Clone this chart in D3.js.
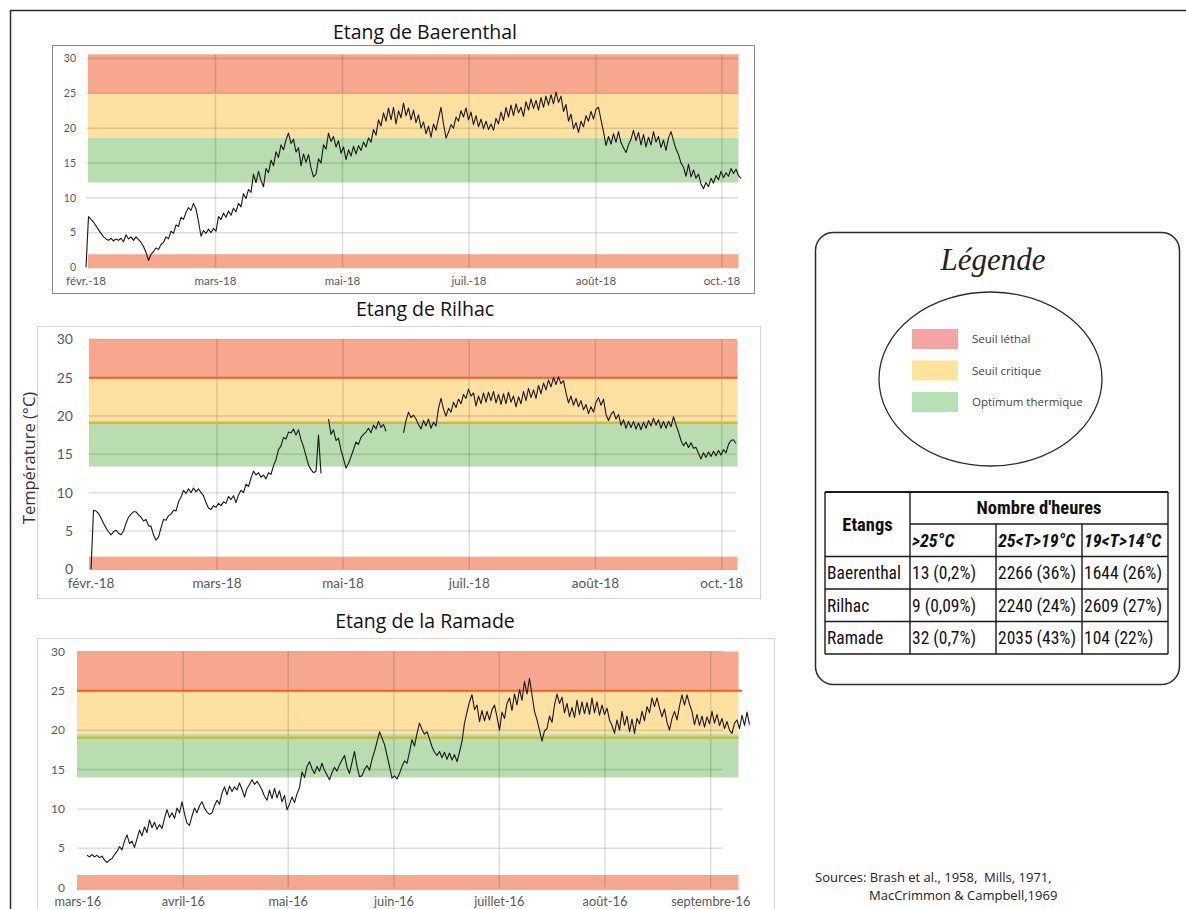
<!DOCTYPE html>
<html><head><meta charset="utf-8">
<script src="https://cdn.jsdelivr.net/npm/d3@7"></script>
<style>body{margin:0;background:#fff}svg{display:block}</style>
</head><body>
<svg id="c" width="1186" height="909"></svg>
<script>
// ---------- DATA ----------
const yTicks = [0, 5, 10, 15, 20, 25, 30];

const baerenthalLabels = ["févr.-18", "mars-18", "mai-18", "juil.-18", "août-18", "oct.-18"];
const baerenthalTickIdx = [0, 51.8, 102.6, 153.2, 204, 254.4];
const baerenthal = [
  0, 7.3, 6.9, 6.5, 6.0, 5.4, 4.9, 4.4, 4.1, 3.9,
  4.2, 3.8, 4.1, 3.9, 4.2, 3.7, 4.7, 4.1, 4.4, 3.9,
  4.4, 4.0, 3.6, 3.0, 2.2, 1.0, 1.9, 2.3, 2.8, 2.6,
  3.3, 3.6, 4.4, 4.1, 5.2, 4.9, 6.1, 5.9, 7.2, 6.9,
  7.9, 8.6, 8.2, 9.2, 8.4, 6.6, 4.5, 5.3, 4.9, 5.5,
  5.0, 5.6, 5.2, 7.3, 6.9, 7.8, 7.2, 8.1, 7.5, 8.5,
  8.0, 9.2, 8.7, 10.6, 9.9, 11.2, 10.8, 13.4, 12.2, 13.8,
  12.5, 11.6, 14.2, 13.6, 15.4, 14.6, 16.6, 15.8, 17.6, 16.9,
  18.3, 19.3, 17.8, 18.4, 16.6, 17.2, 14.6, 16.3, 15.1, 16.2,
  14.3, 13.0, 13.4, 15.6, 15.0, 17.6, 17.0, 19.3, 18.1, 18.8,
  17.3, 18.2, 16.4, 17.3, 15.5, 16.9, 16.0, 17.4, 16.3, 17.5,
  16.8, 18.0, 17.3, 18.6, 18.0, 19.8, 19.0, 21.2, 20.3, 22.2,
  21.0, 22.9, 21.2, 23.0, 20.6, 22.5, 21.5, 23.6, 21.8, 22.9,
  21.2, 22.6, 20.8, 21.9, 20.0, 20.9, 19.2, 20.3, 18.7, 20.6,
  19.7, 21.4, 23.0, 20.6, 18.6, 19.4, 20.5, 20.0, 21.6, 21.0,
  22.5, 21.6, 22.9, 21.2, 22.3, 20.5, 21.8, 20.2, 21.3, 19.9,
  21.0, 19.8, 20.6, 19.7, 21.4, 20.6, 22.3, 21.1, 23.0, 21.6,
  23.3, 21.8, 23.5, 22.2, 23.0, 21.7, 23.8, 22.6, 24.2, 22.8,
  24.0, 22.6, 24.4, 23.0, 24.6, 23.3, 24.8, 23.5, 25.2, 23.7,
  24.6, 22.4, 23.4, 21.0, 22.0, 19.9, 20.8, 19.4, 21.0, 20.2,
  21.8, 21.0, 22.4, 21.3, 22.7, 23.0, 21.2, 19.5, 17.5, 18.8,
  17.7, 19.2, 18.0, 19.5, 17.9, 17.2, 16.5, 17.6, 18.4, 19.7,
  18.2, 19.4, 17.6, 19.1, 17.3, 18.7, 17.6, 19.5, 18.0, 18.8,
  17.2, 18.3, 16.8, 18.6, 19.5, 18.2, 17.0, 16.2, 15.0, 14.4,
  13.1, 14.8, 13.0, 14.0, 12.8, 13.4, 12.0, 11.3, 12.2, 11.6,
  12.8, 12.1, 13.2, 12.6, 13.8, 12.9, 13.6, 13.1, 14.2, 13.5,
  14.1, 13.2, 12.8
];

const rilhacLabels = ["févr.-18", "mars-18", "mai-18", "juil.-18", "août-18", "oct.-18"];
const rilhacTickIdx = [0, 50.4, 100.8, 151.3, 201.8, 252.3];
const rilhac = [
  0, 7.7, 7.6, 7.3, 6.7, 6.0, 5.4, 4.9, 4.5, 4.9,
  5.1, 4.7, 4.5, 5.0, 6.0, 6.8, 7.2, 7.5, 7.5, 7.1,
  6.8, 6.3, 6.5, 5.7, 5.6, 4.5, 3.8, 4.2, 5.4, 6.5,
  6.4, 7.0, 7.2, 7.7, 7.6, 8.8, 9.4, 10.3, 9.9, 10.5,
  10.0, 10.6, 10.1, 10.5, 10.0, 9.6, 8.7, 8.0, 7.8, 8.3,
  8.1, 8.6, 8.3, 8.8, 8.6, 9.5, 9.1, 9.6, 8.7, 9.7,
  10.3, 10.0, 11.1, 10.8, 11.9, 12.8, 12.3, 12.6, 12.0, 12.3,
  11.8, 12.6, 12.4, 13.5, 14.3, 15.6, 16.1, 17.2, 17.0, 17.9,
  17.8, 18.3, 17.5, 18.2, 16.9, 16.0, 14.8, 13.6, 13.0, 12.6,
  12.8, 17.5, 12.5, null, null, 19.6, 17.6, 18.2, 16.8, 17.1,
  15.5, 14.4, 13.2, 13.8, 14.7, 15.6, 16.6, 16.3, 17.2, 17.6,
  17.9, 18.4, 17.8, 18.8, 18.3, 19.3, 18.5, 18.9, 18.0, null,
  null, null, null, null, null, 17.8, 19.4, 20.5, 19.8, 20.1,
  19.6, 18.9, 18.3, 19.4, 18.7, 19.6, 18.4, 19.2, 18.7, 21.0,
  22.3, 20.9, 20.0, 21.0, 20.5, 21.8, 21.1, 22.2, 21.6, 22.8,
  22.3, 23.5, 22.6, 23.0, 21.3, 22.6, 21.6, 23.0, 21.8, 23.1,
  22.0, 23.2, 21.7, 22.8, 21.5, 22.9, 21.6, 23.1, 21.8, 22.6,
  21.2, 22.5, 21.6, 23.2, 22.0, 23.6, 22.4, 23.4, 22.3, 24.0,
  22.9, 24.3, 23.4, 24.7, 23.8, 25.0, 24.1, 25.1, 24.2, 24.6,
  23.0, 21.7, 22.6, 21.4, 22.3, 21.2, 22.0, 20.8, 21.5, 20.3,
  21.2, 20.5, 21.8, 22.4, 21.4, 22.2, 20.2, 19.4, 20.2, 20.6,
  19.6, 20.2, 18.8, 19.5, 18.4, 19.3, 18.5, 19.3, 18.3, 19.1,
  18.2, 19.2, 18.4, 19.4, 18.7, 19.7, 18.8, 19.5, 18.4, 19.3,
  18.4, 19.3, 18.6, 19.9, 18.8, 17.9, 16.8, 16.1, 16.6, 15.9,
  16.5, 15.8, 15.9, 15.1, 14.4, 15.2, 14.6, 15.3, 14.7, 15.4,
  14.8, 15.5, 14.9, 15.6, 15.2, 16.3, 16.8, 16.9, 16.4
];

const ramadeLabels = ["mars-16", "avril-16", "mai-16", "juin-16", "juillet-16", "août-16", "septembre-16"];
const ramadeTickIdx = [-3.7, 38.5, 80.5, 122.8, 164.9, 207.2, 249.5];
const ramade = [
  4.1, 3.9, 4.2, 3.9, 4.1, 3.8, 4.0, 3.5, 3.2, 3.5,
  3.7, 4.2, 4.6, 5.2, 4.8, 5.9, 6.7, 5.6, 5.9, 5.1,
  6.2, 7.3, 6.6, 7.7, 7.0, 8.6, 7.6, 8.3, 7.4, 8.0,
  7.5, 8.8, 9.9, 8.9, 9.5, 8.8, 10.1, 9.5, 10.9, 9.4,
  8.2, 7.9, 9.1, 10.1, 9.5, 10.4, 10.9, 10.1, 9.6, 9.3,
  9.5, 10.4, 11.1, 10.6, 12.0, 12.8, 11.8, 12.9, 12.2, 12.8,
  12.4, 13.3, 12.5, 11.5, 12.6, 13.1, 13.7, 13.1, 13.5, 13.0,
  12.4, 11.6, 11.1, 12.4, 11.3, 12.6, 11.4, 12.3, 10.9, 11.7,
  9.9, 10.6, 11.5, 10.8, 11.9, 12.7, 14.7, 14.0, 15.4, 16.0,
  15.1, 14.5, 15.4, 14.8, 15.8, 14.9, 14.3, 13.7, 14.6, 15.3,
  14.8, 15.6, 16.2, 16.8, 15.3, 14.5, 15.9, 17.3, 15.4, 14.1,
  14.2, 15.0, 15.5, 14.9, 16.3, 17.3, 18.5, 19.8, 19.0, 18.2,
  16.8, 15.4, 13.9, 14.2, 13.8, 14.5, 15.4, 16.1, 15.8, 17.2,
  18.8, 18.0, 19.6, 20.9, 20.1, 19.5, 19.8, 18.9, 17.9, 17.2,
  16.8, 17.3, 16.5, 17.2, 16.3, 17.1, 16.2, 16.9, 16.0, 17.2,
  18.6, 20.9, 22.3, 23.6, 24.5, 22.6, 23.2, 21.1, 22.5, 21.2,
  22.4, 21.3, 22.6, 23.2, 21.7, 20.0, 22.3, 21.5, 23.4, 24.1,
  22.5, 24.6, 23.2, 25.2, 23.8, 26.2, 24.6, 26.6, 24.5, 22.4,
  21.3, 20.0, 18.6, 19.9, 20.2, 21.8, 21.0, 23.2, 24.6, 23.4,
  24.2, 22.2, 23.4, 21.7, 22.9, 21.6, 23.8, 22.0, 23.6, 22.1,
  23.5, 22.0, 24.1, 22.2, 23.6, 21.9, 23.2, 22.0, 22.8, 21.3,
  20.6, 19.6, 21.3, 20.0, 22.4, 20.6, 21.8, 19.8, 21.4, 19.6,
  21.5, 20.8, 22.4, 21.2, 23.0, 22.2, 24.1, 23.0, 24.1, 22.8,
  21.7, 22.7, 21.0, 20.0, 21.5, 22.4, 21.3, 23.1, 24.5, 23.2,
  24.5, 23.3, 22.4, 20.7, 22.0, 20.6, 21.8, 20.4, 21.7, 20.8,
  22.4, 20.9, 22.0, 20.6, 21.5, 20.2, 21.1, 20.0, 19.6, 20.9,
  21.3, 20.2, 21.9, 20.6, 22.3, 20.7
];

// thermal zones per pond: [low, high] in °C
const baerenthalZones = { lethalHigh: [25, 30.6], critique: [18.6, 25], optimum: [12.2, 18.6], lethalLow: [-0.1, 1.9] };
const rilhacZones     = { lethalHigh: [25, 30],   critique: [19.1, 25], optimum: [13.4, 19.1], lethalLow: [-0.1, 1.65] };
const ramadeZones     = { lethalHigh: [25, 30],   critique: [19.5, 25], optimum: [14, 19.5],   lethalLow: [-0.3, 1.6] };
const rilhacThresholds = [25, 19.1];
const ramadeThresholds = [25, 19.05];

const legendLabels = ["Seuil léthal", "Seuil critique", "Optimum thermique"];
const tableFirstHead = "Etangs";
const tableGroupHead = "Nombre d'heures";
const tableColHeads = [">25°C", "25<T>19°C", "19<T>14°C"];
const tableRows = [
  ["Baerenthal", "13 (0,2%)", "2266 (36%)", "1644 (26%)"],
  ["Rilhac", "9 (0,09%)", "2240 (24%)", "2609 (27%)"],
  ["Ramade", "32 (0,7%)", "2035 (43%)", "104 (22%)"]
];
const sourcesLines = ["Sources: Brash et al., 1958,  Mills, 1971,", "MacCrimmon & Campbell,1969"];

// ---------- STYLE ----------
const COL = { lethal: "#F7A78E", critique: "#FEE0A1", optimum: "#B9DCB0" };
const FONT = "'Open Sans', 'Noto Sans', sans-serif";
const LBL = "Lato, 'Open Sans', sans-serif";

const svg = d3.select("#c");

// outer frame
svg.append("path").attr("d", "M10.5,909 V10.5 H1186")
  .attr("fill", "none").attr("stroke", "#2b2b2b").attr("stroke-width", 1.5);

const charts = [
  { title: "Etang de Baerenthal", titleY: 39, box: [52.5, 45.5, 754.5, 293.5], boxStroke: "#8a8a8a",
    data: baerenthal, zones: baerenthalZones, thresholds: [], soft25: true,
    labels: baerenthalLabels, tickIdx: baerenthalTickIdx,
    xr: [86, 741], yr: [267.5, 58.5], bandX: [88, 738.5], gridX: [86, 738], vTop: 30.6,
    yLblX: 76, yFs: 10.5, xLblY: 285, xFs: 11.5 },
  { title: "Etang de Rilhac", titleY: 316, box: [37.5, 326.5, 760.5, 598.5], boxStroke: "#d4d4d4",
    data: rilhac, zones: rilhacZones, thresholds: rilhacThresholds, soft25: false,
    labels: rilhacLabels, tickIdx: rilhacTickIdx,
    xr: [91, 736], yr: [569.3, 339.3], bandX: [89, 737.5], gridX: [89, 736], vTop: 30,
    yLblX: 73, yFs: 14, xLblY: 588, xFs: 13.5 },
  { title: "Etang de la Ramade", titleY: 628, box: [37.5, 638.5, 774.5, 920], boxStroke: "#d4d4d4",
    data: ramade, zones: ramadeZones, thresholds: ramadeThresholds, soft25: false,
    labels: ramadeLabels, tickIdx: ramadeTickIdx,
    xr: [87, 749.5], yr: [887.6, 651.5], bandX: [77, 738.5], gridX: [77, 723], vTop: 30, lineX1: 742,
    yLblX: 65, yFs: 12, xLblY: 906, xFs: 12.8 }
];

charts.forEach(c => {
  const g = svg.append("g");
  const x = d3.scaleLinear().domain([0, c.data.length - 1]).range(c.xr);
  const y = d3.scaleLinear().domain([0, 30]).range(c.yr);

  g.append("rect").attr("x", c.box[0]).attr("y", c.box[1])
    .attr("width", c.box[2] - c.box[0]).attr("height", c.box[3] - c.box[1])
    .attr("fill", "#fff").attr("stroke", c.boxStroke).attr("stroke-width", 1);

  g.append("text").attr("x", 425).attr("y", c.titleY).attr("text-anchor", "middle")
    .attr("font-family", FONT).attr("font-size", 19.5).attr("fill", "#111").text(c.title);

  // bands
  const bands = [
    [c.zones.lethalHigh, COL.lethal], [c.zones.critique, COL.critique],
    [c.zones.optimum, COL.optimum], [c.zones.lethalLow, COL.lethal]
  ];
  g.selectAll("rect.band").data(bands).join("rect").attr("class", "band")
    .attr("x", c.bandX[0]).attr("width", c.bandX[1] - c.bandX[0])
    .attr("y", d => y(d[0][1])).attr("height", d => y(d[0][0]) - y(d[0][1]))
    .attr("fill", d => d[1]);

  // gridlines
  g.selectAll("line.hg").data(yTicks.filter(t => t > 0)).join("line").attr("class", "hg")
    .attr("x1", c.gridX[0]).attr("x2", c.gridX[1])
    .attr("y1", d => y(d)).attr("y2", d => y(d))
    .attr("stroke", "rgba(0,0,0,0.13)").attr("stroke-width", 1.5);
  g.selectAll("line.vg").data(c.tickIdx.slice(1)).join("line").attr("class", "vg")
    .attr("x1", d => x(d)).attr("x2", d => x(d))
    .attr("y1", y(c.vTop)).attr("y2", y(0))
    .attr("stroke", "rgba(0,0,0,0.13)").attr("stroke-width", 1.5);

  if (c.soft25) {
    g.append("line").attr("x1", c.bandX[0]).attr("x2", c.bandX[1])
      .attr("y1", y(25)).attr("y2", y(25)).attr("stroke", "#F3A36E").attr("stroke-width", 1.2);
  }
  // threshold lines
  const thrColors = ["#F2602A", "#C9BE3A"];
  c.thresholds.forEach((t, i) => {
    g.append("line").attr("x1", c.bandX[0]).attr("x2", i === 0 && c.lineX1 ? c.lineX1 : c.bandX[1])
      .attr("y1", y(t)).attr("y2", y(t))
      .attr("stroke", thrColors[i]).attr("stroke-width", i === 0 ? 2 : 2.5);
  });

  // y labels
  g.selectAll("text.yl").data(yTicks).join("text").attr("class", "yl")
    .attr("x", c.yLblX).attr("y", d => y(d)).attr("dy", "0.35em")
    .attr("text-anchor", "end").attr("font-family", LBL).attr("font-size", c.yFs)
    .attr("fill", "#595959").text(d => d);

  // x labels
  g.selectAll("text.xl").data(c.tickIdx).join("text").attr("class", "xl")
    .attr("x", d => x(d)).attr("y", c.xLblY).attr("text-anchor", "middle")
    .attr("font-family", LBL).attr("font-size", c.xFs).attr("fill", "#595959")
    .text((d, i) => c.labels[i]);

  // series
  const line = d3.line().defined(d => d != null).x((d, i) => x(i)).y(d => y(d));
  g.append("path").datum(c.data).attr("d", line)
    .attr("fill", "none").attr("stroke", "#171717").attr("stroke-width", 1.1)
    .attr("stroke-linejoin", "round");
});

// y axis title
svg.append("text").attr("transform", "translate(35,458) rotate(-90)")
  .attr("text-anchor", "middle").attr("font-family", FONT).attr("font-size", 16.5)
  .attr("fill", "#333").text("Température (°C)");

// legend box
const lg = svg.append("g");
lg.append("rect").attr("x", 815.5).attr("y", 232.5).attr("width", 364).attr("height", 452)
  .attr("rx", 18).attr("fill", "#fff").attr("stroke", "#2b2b2b").attr("stroke-width", 1.5);
lg.append("text").attr("x", 993).attr("y", 270).attr("text-anchor", "middle")
  .attr("font-family", "'Liberation Serif', 'DejaVu Serif', serif").attr("font-style", "italic")
  .attr("font-size", 31).attr("fill", "#222").text("Légende");
lg.append("ellipse").attr("cx", 990.5).attr("cy", 379).attr("rx", 111.5).attr("ry", 87)
  .attr("fill", "none").attr("stroke", "#2b2b2b").attr("stroke-width", 1.3);
const swatchCols = ["#F5A3A3", "#FEE39B", "#B5E1B5"];
const legY = d3.scalePoint().domain(legendLabels).range([339, 402]);
lg.selectAll("rect.sw").data(legendLabels).join("rect").attr("class", "sw")
  .attr("x", 912).attr("y", d => legY(d) - 10).attr("width", 46).attr("height", 20)
  .attr("fill", (d, i) => swatchCols[i]);
lg.selectAll("text.lt").data(legendLabels).join("text").attr("class", "lt")
  .attr("x", 972).attr("y", d => legY(d)).attr("dy", "0.35em")
  .attr("font-family", FONT).attr("font-size", 11.5).attr("fill", "#444").text(d => d);

// table
const TF = "'Liberation Sans Narrow', 'Arial Narrow', 'Roboto Condensed', sans-serif";
const colX = [825, 910, 996, 1082, 1168];
const rowY = [492, 524, 556.5, 589, 621.5, 654];
const tg = svg.append("g");
const ls = (x1, y1, x2, y2, w) => tg.append("line").attr("x1", x1).attr("y1", y1).attr("x2", x2).attr("y2", y2)
  .attr("stroke", "#1a1a1a").attr("stroke-width", w || 1.4);
ls(colX[0], rowY[0], colX[4], rowY[0], 1.8);
ls(colX[1], rowY[1], colX[4], rowY[1]);
rowY.slice(2).forEach(yy => ls(colX[0], yy, colX[4], yy));
ls(colX[0], rowY[0], colX[0], rowY[5]);
ls(colX[1], rowY[0], colX[1], rowY[5]);
ls(colX[2], rowY[1], colX[2], rowY[5]);
ls(colX[3], rowY[1], colX[3], rowY[5]);
ls(colX[4], rowY[0], colX[4], rowY[5]);

tg.append("text").attr("x", (colX[0] + colX[1]) / 2).attr("y", (rowY[0] + rowY[2]) / 2).attr("dy", "0.35em")
  .attr("text-anchor", "middle").attr("font-family", TF).attr("font-weight", "bold")
  .attr("font-size", 18.5).attr("fill", "#111").text(tableFirstHead);
tg.append("text").attr("x", (colX[1] + colX[4]) / 2).attr("y", (rowY[0] + rowY[1]) / 2).attr("dy", "0.35em")
  .attr("text-anchor", "middle").attr("font-family", TF).attr("font-weight", "bold")
  .attr("font-size", 18.5).attr("fill", "#111").text(tableGroupHead);
tg.selectAll("text.ch").data(tableColHeads).join("text").attr("class", "ch")
  .attr("x", (d, i) => colX[i + 1] + 2).attr("y", (rowY[1] + rowY[2]) / 2).attr("dy", "0.38em")
  .attr("font-family", TF).attr("font-weight", "bold").attr("font-style", "italic")
  .attr("font-size", 18).attr("fill", "#111").text(d => d);
tableRows.forEach((r, ri) => {
  tg.selectAll("text.r" + ri).data(r).join("text").attr("class", "r" + ri)
    .attr("x", (d, i) => colX[i] + 2).attr("y", (rowY[ri + 2] + rowY[ri + 3]) / 2).attr("dy", "0.38em")
    .attr("font-family", TF).attr("font-size", 17.5).attr("fill", "#111").text(d => d);
});

// sources
svg.append("text").attr("x", 815).attr("y", 882).attr("font-family", FONT).attr("font-size", 13)
  .attr("fill", "#222").style("white-space", "pre").text(sourcesLines[0]);
svg.append("text").attr("x", 869).attr("y", 900).attr("font-family", FONT).attr("font-size", 13)
  .attr("fill", "#222").text(sourcesLines[1]);
</script>
</body></html>
